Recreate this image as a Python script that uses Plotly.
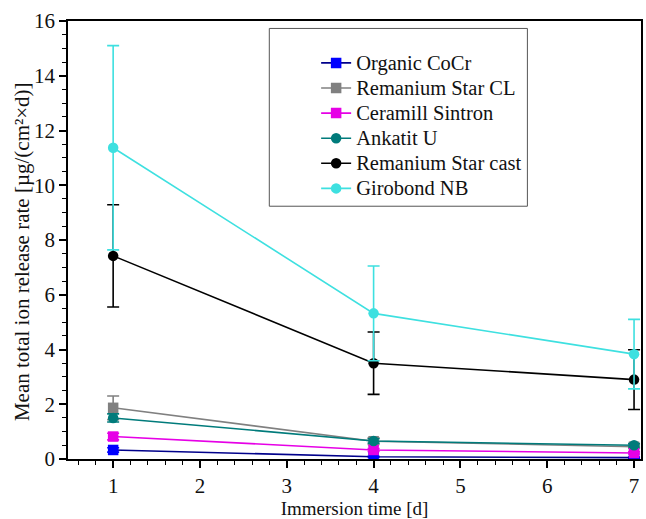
import plotly.graph_objects as go

days = [1, 4, 7]
series_names = ["Organic CoCr", "Remanium Star CL", "Ceramill Sintron",
                "Ankatit U", "Remanium Star cast", "Girobond NB"]
organic = [0.33, 0.08, 0.05]
organic_err = [0.08, 0.02, 0.02]
remanium_cl = [1.87, 0.65, 0.45]
remanium_cl_err = [0.43, 0.12, 0.06]
ceramill = [0.82, 0.33, 0.22]
ceramill_err = [0.12, 0.05, 0.04]
ankatit = [1.50, 0.66, 0.50]
ankatit_err = [0.15, 0.08, 0.06]
remanium_cast = [7.42, 3.50, 2.90]
remanium_cast_err = [1.87, 1.14, 1.09]
girobond = [11.37, 5.32, 3.83]
girobond_err = [3.73, 1.73, 1.27]

values = [organic, remanium_cl, ceramill, ankatit, remanium_cast, girobond]
errors = [organic_err, remanium_cl_err, ceramill_err, ankatit_err, remanium_cast_err, girobond_err]
line_colors = ["#00008B", "#808080", "#E600E6", "#007B7B", "#000000", "#3EE0E0"]
marker_colors = ["#0000FF", "#808080", "#E600E6", "#007B7B", "#000000", "#3EE0E0"]
symbols = ["square", "square", "square", "circle", "circle", "circle"]

FONT = "Liberation Serif, Times New Roman, serif"

fig = go.Figure()
for name, v, e, lc, mc, s in zip(series_names, values, errors, line_colors, marker_colors, symbols):
    fig.add_trace(go.Scatter(
        x=days, y=v, name='<span style="font-size:20.5px">' + name + '</span>',
        mode="lines+markers",
        line=dict(color=lc, width=1.6),
        marker=dict(symbol=s, size=10.5, color=mc),
        error_y=dict(type="data", array=e, visible=True, color=mc, thickness=1.6, width=6),
    ))

pl, pr, pt, pb = 68, 643, 20.5, 461.5
W, H = pr - pl, pb - pt

# legend frame
fig.add_shape(type="rect", xref="paper", yref="paper",
              x0=(270 - pl) / W, x1=(529 - pl) / W,
              y0=(pb - 207) / H, y1=(pb - 28) / H,
              line=dict(color="#555555", width=1))

# y-axis title as annotation for exact placement
fig.add_annotation(
    text="Mean total ion release rate [µg/(cm²×d)]",
    xref="paper", yref="paper", x=(22 - pl) / W, y=(pb - 253) / H,
    xanchor="center", yanchor="middle", textangle=-90, showarrow=False,
    font=dict(family=FONT, size=21, color="#111111"),
)

axis_common = dict(
    showline=True, linecolor="black", linewidth=1.5, mirror=True,
    ticks="outside", ticklen=7, tickwidth=1.5, tickcolor="black",
    showgrid=False, zeroline=False,
    tickfont=dict(family=FONT, size=21, color="#111111"),
)

fig.update_xaxes(
    range=[0.48, 7.08], tick0=1, dtick=1,
    minor=dict(ticks="outside", ticklen=4, tickwidth=1.2, tickcolor="black", dtick=0.2, tick0=0, showgrid=False),
    title=dict(text="Immersion time [d]", font=dict(family=FONT, size=19, color="#111111"), standoff=5),
    **axis_common,
)
fig.update_yaxes(
    range=[0, 16], tick0=0, dtick=2,
    minor=dict(ticks="outside", ticklen=4, tickwidth=1.2, tickcolor="black", dtick=0.5, tick0=0, showgrid=False),
    **axis_common,
)

fig.update_layout(
    width=646, height=519,
    margin=dict(l=pl, r=646 - pr, t=pt, b=519 - pb),
    plot_bgcolor="white", paper_bgcolor="white",
    font=dict(family=FONT, color="#111111"),
    showlegend=True,
    legend=dict(
        x=(317 - pl) / W, y=(pb - 45) / H, xanchor="left", yanchor="top",
        bgcolor="rgba(0,0,0,0)", borderwidth=0,
        font=dict(family=FONT, size=17, color="#111111"),
        tracegroupgap=0,
    ),
)

fig.write_html("out.html")
